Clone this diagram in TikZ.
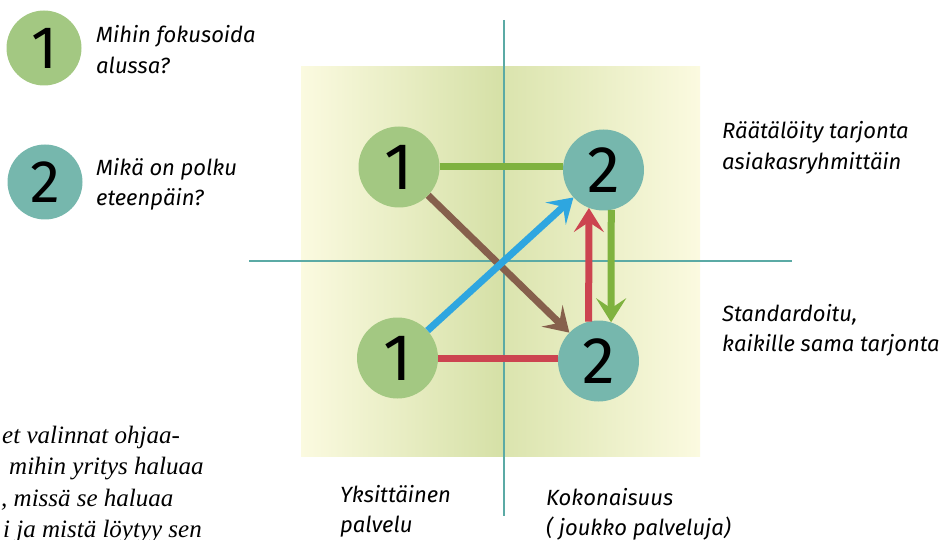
\documentclass[tikz,border=0pt]{standalone}
\usepackage{fontspec}
\setmainfont{Fira Sans}
\newfontfamily\serifit{Liberation Serif}
\usetikzlibrary{arrows.meta}
\definecolor{cgreen}{HTML}{A3C882}
\definecolor{cteal}{HTML}{76B7AD}
\definecolor{axisc}{HTML}{5BAAA5}
\definecolor{bgl}{HTML}{FBFAE0}
\definecolor{bgd}{HTML}{D5E0A6}
\definecolor{bgd2}{HTML}{DBE4AE}
\definecolor{lgreen}{HTML}{7FB23F}
\definecolor{lbrown}{HTML}{86604C}
\definecolor{lblue}{HTML}{2EA6E0}
\definecolor{lred}{HTML}{CC4450}
\begin{document}
\begin{tikzpicture}[x=1pt,y=-1pt]
\tikzset{
  cone/.style={circle, fill=cgreen, minimum size=81pt, inner sep=0pt, font=\fontsize{66}{66}\selectfont},
  ctwo/.style={circle, fill=cteal, minimum size=81pt, inner sep=0pt, font=\fontsize{66}{66}\selectfont},
  lgone/.style={circle, fill=cgreen, minimum size=75pt, inner sep=0pt, font=\fontsize{60}{60}\selectfont},
  lgtwo/.style={circle, fill=cteal, minimum size=75pt, inner sep=0pt, font=\fontsize{60}{60}\selectfont},
  lab/.style={anchor=base west, inner sep=0pt, font=\fontsize{22}{26}\selectfont\itshape},
  stxt/.style={anchor=base west, inner sep=0pt, font=\fontsize{25}{28}\selectfont\serifit\itshape},
  axisline/.style={draw=axisc, line width=2pt},
  conn/.style={line width=7pt},
  tip/.style={-{Stealth[length=24pt,width=30pt,inset=10pt]}}
}
\useasboundingbox (0,0) rectangle (943,540);
% background
\shade[left color=bgl, right color=bgd] (301,67) rectangle (504,456);
\shade[left color=bgd2, right color=bgl] (504,67) rectangle (700,456);
% axes
\coordinate (vt) at (504,20);
\coordinate (vb) at (504,516);
\coordinate (hl) at (249,261);
\coordinate (hr) at (792,261);
\draw[axisline] (vt) -- (vb);
\draw[axisline] (hl) -- (hr);
% circles
\node[cone] (tl) at (399,167) {1};
\node[ctwo] (tr) at (603.5,170) {2};
\node[cone] (bl) at (397.5,358) {1};
\node[ctwo] (br) at (598.5,361) {2};
% connectors
\draw[conn, draw=lgreen] (tl.east) -- (tl.east -| tr.west);
\draw[conn, draw=lred] (bl.east) -- (bl.east -| br.west);
\draw[conn, tip, draw=lbrown] (tl) -- (br);
\draw[conn, tip, draw=lblue] (bl) -- (tr);
\draw[conn, tip, draw=lred] (br.104) -- (tr.249);
\draw[conn, tip, draw=lgreen] (tr.281) -- (br.72);
% legend
\node[lgone] (lg1) at (44,48) {1};
\node[lgtwo] (lg2) at (45,182) {2};
\node[lab] (q1a) at (96,43) {Mihin fokusoida};
\node[lab] (q1b) at (96,74) {alussa?};
\node[lab] (q2a) at (96,176) {Mikä on polku};
\node[lab] (q2b) at (96,206) {eteenpäin?};
% right labels
\node[lab] (r1a) at (722,139) {Räätälöity tarjonta};
\node[lab] (r1b) at (722,170) {asiakasryhmittäin};
\node[lab] (r2a) at (722,321) {Standardoitu,};
\node[lab] (r2b) at (722,351) {kaikille sama tarjonta};
% bottom labels
\node[lab] (b1a) at (340,502) {Yksittäinen};
\node[lab] (b1b) at (340,532) {palvelu};
\node[lab] (b2a) at (546,505) {Kokonaisuus};
\node[lab] (b2b) at (546,535) {( joukko palveluja)};
% side text
\node[stxt] (s1) at (2,443) {et valinnat ohjaa-};
\node[stxt] (s2) at (9,474) {mihin yritys haluaa};
\node[stxt] (s3) at (1,506) {, missä se haluaa};
\node[stxt] (s4) at (3,537) {i ja mistä löytyy sen};
\end{tikzpicture}
\end{document}
